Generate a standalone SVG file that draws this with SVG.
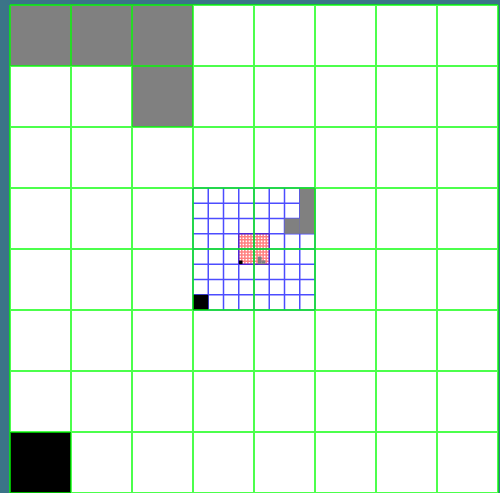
<svg xmlns="http://www.w3.org/2000/svg" width="500" height="493" viewBox="0 0 500 493">
<style>
.g{stroke:#00ff00;stroke-opacity:0.7;stroke-width:2;fill:none}
.b{stroke:#0000ff;stroke-opacity:0.7;stroke-width:1.5;fill:none}
.r{stroke:#ff0000;stroke-opacity:0.5;stroke-width:1.5;fill:none}
.gray{fill:#808080}
.blk{fill:#000000}
</style>
<rect x="0" y="0" width="500" height="493" fill="#3b7488"/>
<rect x="10" y="5" width="488" height="488" fill="#ffffff"/>
<g id="level3-grid">
<path class="r" d="M238.75 233.75V264.25M241.8 233.75V264.25M244.85 233.75V264.25M247.9 233.75V264.25M250.95 233.75V264.25M254 233.75V264.25M257.05 233.75V264.25M260.1 233.75V264.25M263.15 233.75V264.25M266.2 233.75V264.25M269.25 233.75V264.25M238.75 233.75H269.25M238.75 236.8H269.25M238.75 239.85H269.25M238.75 242.9H269.25M238.75 245.95H269.25M238.75 249H269.25M238.75 252.05H269.25M238.75 255.1H269.25M238.75 258.15H269.25M238.75 261.2H269.25M238.75 264.25H269.25"/>
</g>
<g id="level2-grid">
<path class="b" d="M193 188V310M208.25 188V310M223.5 188V310M238.75 188V310M254 188V310M269.25 188V310M284.5 188V310M299.75 188V310M315 188V310M193 188H315M193 203.25H315M193 218.5H315M193 233.75H315M193 249H315M193 264.25H315M193 279.5H315M193 294.75H315M193 310H315"/>
</g>
<g id="cells">
<rect class="gray" x="10" y="5" width="183" height="61"/>
<rect class="gray" x="132" y="66" width="61" height="61"/>
<rect class="blk" x="10" y="432" width="61" height="61"/>
<rect class="gray" x="299.75" y="188" width="15.25" height="45.75"/>
<rect class="gray" x="284.5" y="218.5" width="15.25" height="15.25"/>
<rect class="blk" x="193" y="294.75" width="15.25" height="15.25"/>
<rect class="blk" x="239" y="260.5" width="3.5" height="3.5"/>
<rect class="gray" x="257.8" y="256.6" width="3.8" height="7.6"/>
<rect class="gray" x="261.6" y="260.4" width="3.8" height="3.8"/>
</g>
<g id="level1-grid">
<path class="g" d="M10 5V493M71 5V493M132 5V493M193 5V493M254 5V493M315 5V493M376 5V493M437 5V493M498 5V493M10 5H498M10 66H498M10 127H498M10 188H498M10 249H498M10 310H498M10 371H498M10 432H498M10 493H498"/>
</g>
</svg>
